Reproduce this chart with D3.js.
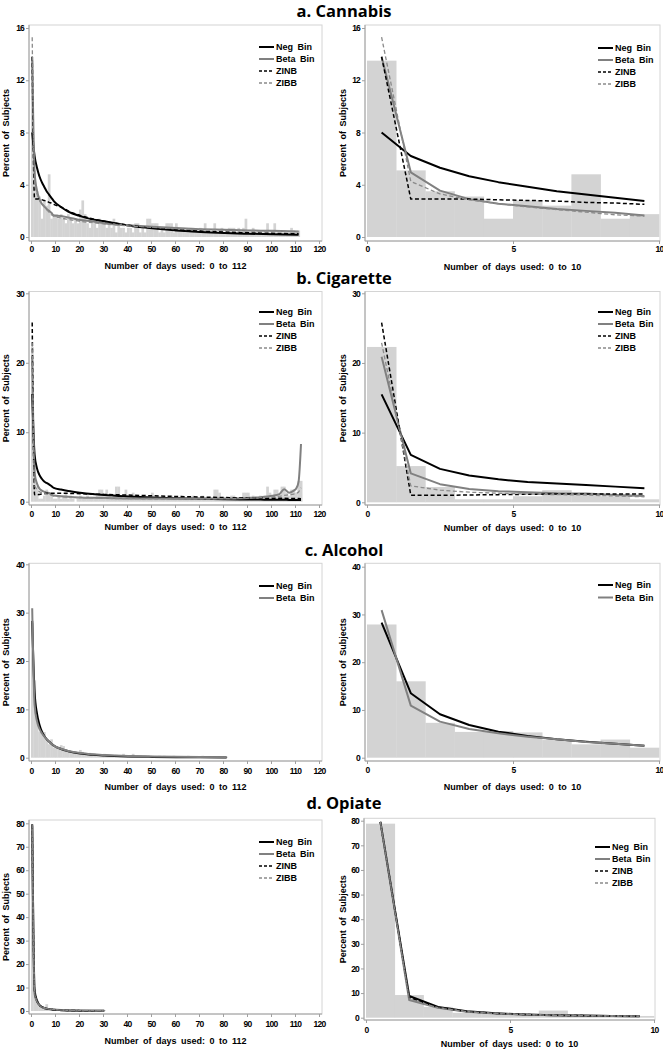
<!DOCTYPE html>
<html><head><meta charset="utf-8">
<script src="https://cdn.jsdelivr.net/npm/d3@7/dist/d3.min.js"></script>
<style>
body{margin:0;background:#fff;}
svg{display:block;}
.tick text{font-family:"Liberation Sans",Arial,sans-serif;font-weight:bold;font-size:8.5px;letter-spacing:-0.8px;fill:#000;}
.lab{font-family:"Liberation Sans",Arial,sans-serif;font-weight:bold;font-size:9px;word-spacing:2px;fill:#000;}
.title{font-family:"Open Sans",sans-serif;font-weight:bold;font-size:16.5px;fill:#000;}
</style></head>
<body>
<script>
// ---------------- DATA ----------------
const panelTitles = ["a. Cannabis", "b. Cigarette", "c. Alcohol", "d. Opiate"];
const seriesNames = ["Neg Bin", "Beta Bin", "ZINB", "ZIBB"];
const xTitleLeft = "Number of days used: 0 to 112";
const xTitleRight = "Number of days used: 0 to 10";
const yTitle = "Percent of Subjects";
const xTicksLeft = [0,10,20,30,40,50,60,70,80,90,100,110,120];
const xTicksRight = [0,5,10];

// Cannabis: observed percent by number of days (0..112)
const cannabisBars = [13.5,5.1,3.5,3.1,1.4,2.8,2.4,4.8,1.4,1.75,
 1.75,1.4,1.75,1.4,1.05,1.75,1.4,1.05,1.4,1.05,
 2.1,2.8,1.75,1.05,0.7,1.05,1.4,0.7,1.4,1.05,
 1.05,0.7,1.05,0.7,1.4,0.35,1.05,0.7,0.7,0.35,
 0.7,0.7,0.35,1.05,1.05,0.35,0.7,0.35,1.4,1.4,
 1.05,1.05,1.05,0.35,0.7,0.35,1.05,1.05,1.05,0.35,
 1.05,0.7,0.7,0.7,0.35,0.35,0.7,0.7,0.35,0.35,
 0.7,0.35,1.05,0.35,0.35,0.35,1.05,0.35,0.35,0.7,
 0.35,0.35,0.7,0.7,0.7,0.35,0.7,0.35,0.7,1.4,
 0.35,0.35,0.7,0.35,0.35,0.35,0.35,0.35,1.05,0.35,
 0.35,1.05,0.35,0.35,0.35,0.35,0.35,0.35,0.7,0.5,
 0.35,0.5,0];
const cannabisCurveDays = [0,1,2,3,4,5,6,7,8,9,12,15,20,25,30,40,50,60,70,80,90,100,111];
const cannabisNegBin = [8.0,6.2,5.3,4.65,4.2,3.85,3.5,3.25,3.0,2.75,2.3,1.95,1.6,1.35,1.2,0.88,0.66,0.5,0.38,0.3,0.25,0.21,0.18];
const cannabisBetaBin = [13.8,4.95,3.55,2.9,2.55,2.35,2.15,2.0,1.85,1.65,1.6,1.5,1.3,1.2,1.05,0.9,0.78,0.68,0.6,0.55,0.5,0.47,0.42];
const cannabisZINB = [13.8,2.9,2.9,2.9,2.85,2.8,2.75,2.65,2.6,2.5,2.3,2.0,1.65,1.4,1.2,0.9,0.7,0.55,0.45,0.38,0.32,0.28,0.24];
const cannabisZIBB = [15.3,4.25,3.3,2.85,2.55,2.3,2.1,1.9,1.7,1.6,1.45,1.35,1.2,1.1,1.0,0.85,0.74,0.65,0.58,0.52,0.47,0.44,0.4];

// Cigarette
const cigaretteBars = [22.3,5.2,2.2,0.43,0.43,0.87,1.74,1.3,0.87,0.43,
 0.43,0.87,0.43,0.87,1.3,0.43,0.87,0.43,0,0.43,
 0.87,0.43,0.43,0.87,0.43,0.43,0.43,0.87,1.74,1.74,
 0.87,1.74,0.87,0.43,0.87,2.17,2.17,0.87,0.43,1.74,
 0.87,0.87,1.3,0.43,0.87,0.43,0.87,0.43,0.43,0.87,
 1.3,0.43,0.87,0.43,0.43,0.87,0.43,0.43,0.87,0.43,
 0.43,0.43,0.87,0.43,0.43,0.43,0.43,0.87,0.43,0.43,
 0.43,0.87,0.43,0.43,0.43,0.43,1.74,1.74,1.3,0.43,
 0.43,0.43,0.43,0.87,0.87,0.43,0.43,0.43,1.3,1.3,
 1.3,0.43,0.87,0.43,0.43,0.87,0.43,0.87,2.17,1.3,
 0.87,1.74,1.74,0.87,2.17,2.17,1.3,0.87,1.74,1.74,
 1.3,3.0,3.0];
const cigaretteCurveDays = [0,1,2,3,4,5,6,7,8,9,12,15,20,25,30,40,50,60,70,80,90,95,100,103,105,107,109,110,111,112];
const cigaretteNegBin = [15.5,6.8,4.8,3.85,3.3,2.9,2.7,2.5,2.25,2.0,1.75,1.55,1.3,1.1,0.95,0.75,0.6,0.5,0.42,0.36,0.32,0.3,0.28,0.27,0.27,0.26,0.26,0.25,0.25,0.25];
const cigaretteBetaBin = [20.9,4.15,2.6,1.9,1.6,1.45,1.3,1.25,1.05,0.9,0.8,0.72,0.62,0.56,0.52,0.47,0.45,0.44,0.45,0.47,0.55,0.65,0.85,1.1,1.8,1.3,1.6,1.9,2.9,8.3];
const cigaretteZINB = [25.8,1.0,1.0,1.05,1.1,1.15,1.2,1.2,1.2,1.2,1.2,1.2,1.15,1.1,1.05,0.95,0.85,0.75,0.68,0.6,0.55,0.52,0.5,0.49,0.48,0.47,0.46,0.45,0.45,0.44];
const cigaretteZIBB = [22.9,2.35,1.75,1.45,1.3,1.2,1.1,1.05,0.9,0.8,0.72,0.65,0.58,0.52,0.48,0.44,0.42,0.41,0.42,0.44,0.5,0.58,0.7,0.8,0.9,1.0,1.1,1.2,1.4,2.0];

// Alcohol
const alcoholBars = [27.9,16.0,7.3,5.4,5.6,5.3,3.7,2.8,3.8,2.1,
 2.2,2.0,2.6,2.4,1.6,1.4,1.2,1.0,1.2,0.8,
 1.6,1.2,1.0,0.8,1.0,0.6,0.8,0.6,0.6,0.4,
 0.8,0.6,0.4,0.4,0.4,0.6,0.4,0.4,0.8,0.4,
 0.4,0.4,0.8,0.2,0.4,0.4,0.2,0.4,0.2,0.2,
 0.4,0.2,0.2,0.4,0.2,0.4,0.2,0.2,0.2,0.4,
 0.2,0.2,0.2,0.2,0.2,0.4,0.2,0.2,0.2,0.2,
 0.2,0.4,0.2,0.2,0.2,0,0.2,0,0.2,0,0.2,0.2];
const alcoholCurveDays = [0,1,2,3,4,5,6,7,8,9,12,15,20,25,30,40,50,60,70,81];
const alcoholNegBin = [28.3,13.5,9.1,6.85,5.45,4.55,3.85,3.35,2.9,2.5,1.8,1.35,0.85,0.6,0.45,0.27,0.17,0.1,0.07,0.04];
const alcoholBetaBin = [30.9,10.9,7.55,6.0,5.1,4.4,3.85,3.3,2.9,2.5,1.85,1.4,0.95,0.7,0.55,0.35,0.25,0.18,0.13,0.1];

// Opiate
const opiateBars = [78.8,9.2,4.4,2.0,1.5,1.1,2.9,1.1,0.7,0.7,
 0.4,0.4,0.7,0.4,0.7,0.4,0.4,0.4,0.4,0,
 0.4,0.4,0,0.4,0.4,0,0.4,0,0.4,0,0.4];
const opiateCurveDays = [0,1,2,3,4,5,6,7,8,9,12,15,20,25,30];
const opiateNegBin = [79.5,8.8,4.4,2.6,1.8,1.3,1.0,0.85,0.7,0.55,0.35,0.25,0.15,0.1,0.08];
const opiateBetaBin = [79.5,7.2,4.0,2.4,1.7,1.25,1.0,0.85,0.7,0.6,0.4,0.3,0.18,0.12,0.1];
const opiateZINB = [79.5,8.2,4.2,2.5,1.75,1.3,1.0,0.85,0.7,0.55,0.35,0.25,0.15,0.1,0.08];
const opiateZIBB = [79.5,7.6,4.0,2.4,1.7,1.25,1.0,0.85,0.7,0.6,0.4,0.3,0.18,0.12,0.1];

const yTicksA = [0,4,8,12,16];
const yTicksB = [0,10,20,30];
const yTicksC = [0,10,20,30,40];
const yTicksD = [0,10,20,30,40,50,60,70,80];

// ---------------- STYLE ----------------
const seriesStyle = {
  "Neg Bin": {color:"#000", width:2, dash:null},
  "Beta Bin": {color:"#808080", width:2, dash:null},
  "ZINB": {color:"#000", width:1.5, dash:"4,2.5"},
  "ZIBB": {color:"#8a8a8a", width:1.3, dash:"4,2.5"}
};

const drugs = [
  {title:panelTitles[0], titleY:17, bars:cannabisBars, days:cannabisCurveDays,
   curves:{"Neg Bin":cannabisNegBin,"Beta Bin":cannabisBetaBin,"ZINB":cannabisZINB,"ZIBB":cannabisZIBB},
   yMax:16, yTicks:yTicksA,
   L:{fx:[29,322], fy:[25,241], xr:[31,319], yr:[237,28], tickY:252, titleY:269, leg:{x:259,y:[47,59,71,83]}},
   R:{fx:[365,660], fy:[25,241], xr:[367,659], yr:[237,28], tickY:252, titleY:270, leg:{x:598,y:[48,60,72,84]}}},
  {title:panelTitles[1], titleY:284, bars:cigaretteBars, days:cigaretteCurveDays,
   curves:{"Neg Bin":cigaretteNegBin,"Beta Bin":cigaretteBetaBin,"ZINB":cigaretteZINB,"ZIBB":cigaretteZIBB},
   yMax:30, yTicks:yTicksB,
   L:{fx:[29,322], fy:[291.5,505], xr:[31,319], yr:[501.7,293.3], tickY:516.5, titleY:530, leg:{x:259,y:[312,324,336,348]}},
   R:{fx:[365,660], fy:[291.5,505], xr:[367,659], yr:[502.3,293.3], tickY:516.5, titleY:531, leg:{x:598,y:[312,324,336,348]}}},
  {title:panelTitles[2], titleY:556, bars:alcoholBars, days:alcoholCurveDays,
   curves:{"Neg Bin":alcoholNegBin,"Beta Bin":alcoholBetaBin},
   yMax:40, yTicks:yTicksC,
   L:{fx:[29,322], fy:[563.3,761], xr:[31,319], yr:[757.7,564.3], tickY:774, titleY:790, leg:{x:259,y:[586,598]}},
   R:{fx:[365,660], fy:[563.3,761], xr:[367,659], yr:[757.7,566.7], tickY:773, titleY:789.5, leg:{x:598,y:[585,597.5]}}},
  {title:panelTitles[3], titleY:809, bars:opiateBars, days:opiateCurveDays,
   curves:{"Neg Bin":opiateNegBin,"Beta Bin":opiateBetaBin,"ZINB":opiateZINB,"ZIBB":opiateZIBB},
   yMax:80, yTicks:yTicksD,
   L:{fx:[29,322], fy:[820,1014], xr:[31,319], yr:[1011,823.3], tickY:1026.5, titleY:1044, leg:{x:259,y:[842,854,866,878]}},
   R:{fx:[364,655], fy:[818.3,1020], xr:[366,654], yr:[1017.7,820.7], tickY:1032.5, titleY:1046.5, leg:{x:595,y:[847,859,871,883]}}}
];

const svg = d3.select("body").append("svg").attr("width",663).attr("height",1050);

function drawPanel(drug, lay, isLeft){
  const g = svg.append("g");
  const x = d3.scaleLinear().domain(isLeft?[0,120]:[0,10]).range(lay.xr);
  const y = d3.scaleLinear().domain([0,drug.yMax]).range(lay.yr);
  // frame
  g.append("rect").attr("x",lay.fx[0]).attr("y",lay.fy[0])
   .attr("width",lay.fx[1]-lay.fx[0]).attr("height",lay.fy[1]-lay.fy[0])
   .attr("fill","none").attr("stroke","#d4d4d4").attr("stroke-width",1);
  // bars
  const nb = isLeft ? drug.bars.length : 10;
  const barData = drug.bars.slice(0,nb).map((v,i)=>({d:i,v:v}));
  g.append("g").selectAll("rect").data(barData).join("rect")
   .attr("x",d=>x(d.d)).attr("width",d=>x(d.d+1)-x(d.d)+0.3)
   .attr("y",d=>y(d.v)).attr("height",d=>Math.max(0,lay.yr[0]-y(d.v)))
   .attr("fill","#d3d3d3");
  // curves
  const np = isLeft ? drug.days.length : 10;
  const line = d3.line().x(d=>x(d.d+0.5)).y(d=>y(d.v))
    .curve(isLeft ? d3.curveMonotoneX : d3.curveLinear);
  Object.keys(drug.curves).forEach(name=>{
    const st = seriesStyle[name];
    const pts = drug.days.slice(0,np).map((d,i)=>({d:d,v:drug.curves[name][i]}));
    g.append("path").datum(pts).attr("d",line).attr("fill","none")
     .attr("stroke",st.color).attr("stroke-width",st.width)
     .attr("stroke-dasharray",st.dash).attr("stroke-linejoin","round");
  });
  // axes
  const yAx = d3.axisLeft(y).tickValues(drug.yTicks).tickSize(3).tickPadding(2).tickFormat(d3.format("d"));
  const ga = g.append("g").attr("transform",`translate(${lay.fx[0]},0)`).call(yAx);
  ga.select(".domain").attr("d",`M0,${lay.fy[0]}V${lay.fy[1]}`);
  const xAx = d3.axisBottom(x).tickValues(isLeft?xTicksLeft:xTicksRight).tickSize(3).tickPadding(2);
  const gx = g.append("g").attr("transform",`translate(0,${lay.fy[1]})`).call(xAx);
  gx.select(".domain").attr("d",`M${lay.fx[0]},0H${lay.fx[1]}`);
  [ga,gx].forEach(a=>{
    a.selectAll(".domain").attr("stroke","#a0a0a0");
    a.selectAll(".tick line").attr("stroke","#a0a0a0");
  });
  gx.selectAll(".tick text").attr("y",null).attr("dy",null)
    .attr("transform",`translate(0,${lay.tickY-lay.fy[1]})`);
  // axis titles
  g.append("text").attr("class","lab").attr("text-anchor","middle")
   .attr("x",(lay.fx[0]+lay.fx[1])/2).attr("y",lay.titleY)
   .text(isLeft?xTitleLeft:xTitleRight);
  const yc = (lay.fy[0]+lay.fy[1])/2;
  const yx = isLeft ? 9 : 346;
  g.append("text").attr("class","lab").attr("text-anchor","middle")
   .attr("transform",`translate(${yx},${yc}) rotate(-90)`).text(yTitle);
  // legend
  Object.keys(drug.curves).forEach((name,i)=>{
    const st = seriesStyle[name];
    const ly = lay.leg.y[i];
    g.append("line").attr("x1",lay.leg.x).attr("x2",lay.leg.x+15).attr("y1",ly).attr("y2",ly)
     .attr("stroke",st.color).attr("stroke-width",st.width).attr("stroke-dasharray",st.dash?"3,2":null);
    g.append("text").attr("class","lab").attr("x",lay.leg.x+17).attr("y",ly+3.2).text(name);
  });
}

drugs.forEach(dr=>{
  svg.append("text").attr("class","title").attr("text-anchor","middle")
    .attr("x",344).attr("y",dr.titleY).text(dr.title);
  drawPanel(dr, dr.L, true);
  drawPanel(dr, dr.R, false);
});
</script>
</body></html>
